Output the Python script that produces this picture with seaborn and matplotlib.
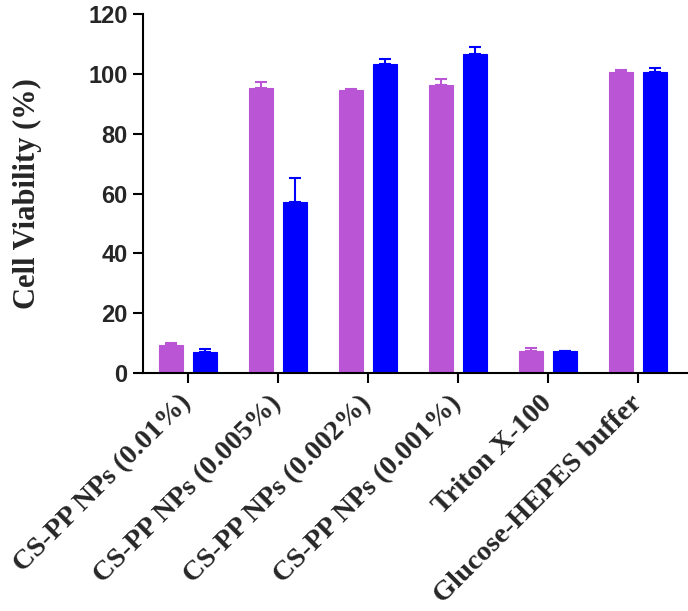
import pandas as pd
import numpy as np
import matplotlib
matplotlib.use("Agg")
import matplotlib.pyplot as plt
import seaborn as sns

# values (mean, upper SD)
groups = ["CS-PP NPs (0.01%)", "CS-PP NPs (0.005%)", "CS-PP NPs (0.002%)",
          "CS-PP NPs (0.001%)", "Triton X-100", "Glucose-HEPES buffer"]
series = ["A", "B"]
viab_a = [9.3, 95.3, 94.5, 96.4, 7.3, 100.5]
err_a = [0.8, 2.0, 0.6, 2.0, 0.9, 0.9]
viab_b = [7.1, 57.3, 103.3, 106.5, 7.2, 100.5]
err_b = [1.0, 8.0, 1.6, 2.6, 0.2, 1.5]
colors = ["#BA55D6", "#0000FF"]

df = pd.DataFrame({
    "group": groups * 2,
    "series": [series[0]] * len(groups) + [series[1]] * len(groups),
    "value": viab_a + viab_b,
    "err": err_a + err_b,
})

sns.set_style("ticks")
fig = plt.figure(figsize=(6.88, 6.11), dpi=100)
ax = fig.add_axes([0.2078, 0.3895, 0.7922, 0.5875])

sns.barplot(data=df, x="group", y="value", hue="series", order=groups,
            hue_order=series, palette=colors, width=0.756, gap=0.294,
            errorbar=None, legend=False, saturation=1, ax=ax,
            linewidth=0.8)
for p, c in zip(ax.patches, [colors[0]] * 6 + [colors[1]] * 6):
    p.set_edgecolor(c)

# one-sided (upper) error bars placed on the bar centres
for i, s in enumerate(series):
    bars = ax.patches[i * len(groups):(i + 1) * len(groups)]
    xs = [b.get_x() + b.get_width() / 2 for b in bars]
    sub = df[df.series == s]
    ax.errorbar(xs, sub.value, yerr=[np.zeros(len(sub)), sub.err], fmt="none",
                ecolor=colors[i], elinewidth=1.5, capsize=4.5, capthick=1.5)

ax.set_xlim(-0.5, 5.556)
ax.set_ylim(0, 120)
ax.set_yticks([0, 20, 40, 60, 80, 100, 120])
ax.set_xlabel("")
ax.set_ylabel("Cell Viability (%)", fontfamily="Liberation Serif",
              fontweight="bold", fontsize=22, labelpad=33)
for lab in ax.get_yticklabels():
    lab.set_fontfamily("Liberation Sans")
    lab.set_fontweight("bold")
    lab.set_fontsize(17)
ax.set_xticks(range(len(groups)))
ax.set_xticklabels(groups, rotation=45, ha="right", va="center",
                   rotation_mode="anchor",
                   fontfamily="Liberation Serif", fontweight="bold", fontsize=20.5)
ax.tick_params(axis="both", width=1.5, length=7, color="black")
ax.tick_params(axis="y", pad=4)
ax.tick_params(axis="x", pad=12)
for side in ["left", "bottom"]:
    ax.spines[side].set_linewidth(1.5)
    ax.spines[side].set_color("black")
sns.despine(ax=ax)

fig.savefig("out.png", dpi=100)
